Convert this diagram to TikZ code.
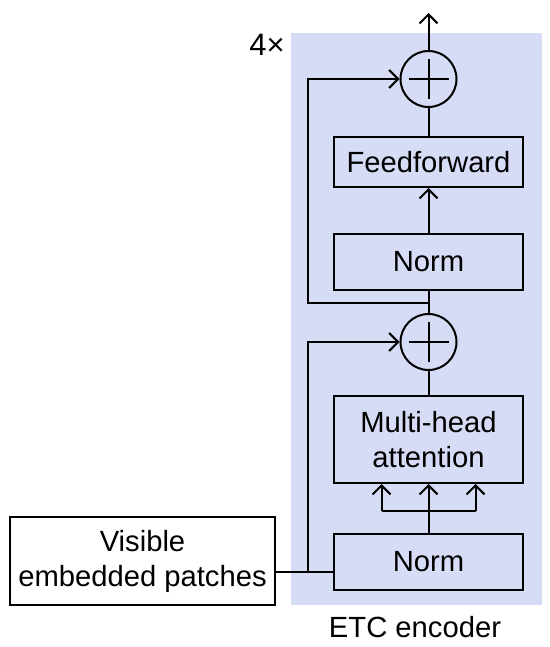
\documentclass[tikz,border=0pt]{standalone}
\usepackage{fontspec}
\setmainfont{Liberation Sans}
\usepackage{tikz}
\usetikzlibrary{calc}
\usetikzlibrary{arrows.meta}
\definecolor{encblue}{RGB}{214,220,245}
\tikzstyle{block}=[draw, line width=1pt, fill=white, minimum width=94.5pt, align=center, inner sep=0pt]
\tikzstyle{addop}=[draw, circle, line width=1pt, minimum size=28pt, inner sep=0pt,
  path picture={\draw[line width=1pt] ([xshift=-10pt]path picture bounding box.center) -- ([xshift=10pt]path picture bounding box.center);
    \draw[line width=1pt] ([yshift=-10pt]path picture bounding box.center) -- ([yshift=10pt]path picture bounding box.center);}]
\tikzstyle{arr}=[-{Straight Barb[length=4.5pt,width=9pt]}]

\begin{document}
\begin{tikzpicture}
        [x=0.5pt,y=-0.5pt,line width=1pt,font=\fontsize{14.6}{17.5}\selectfont]
            \useasboundingbox (0,0) rectangle (550,647);
            \fill [encblue] (291,33) rectangle (542,605);
            \node [font=\fontsize{15.5}{18}\selectfont] (fourx) at (267,45) {4×} ;
            \node (etc) at (415,627) {ETC encoder} ;
            \node [block, fill=encblue, minimum height=28pt] (norma) at (428.5,562) {Norm} ;
            \node [block, fill=encblue, minimum height=43.5pt] (mha) at (428.5,439.5) {Multi-head\\attention} ;
            \node [addop] (add1) at (428.5,342) {} ;
            \node [block, fill=encblue, minimum height=28pt] (normb) at (428.5,262) {Norm} ;
            \node [block, fill=encblue, minimum height=25pt] (ffn) at (428.5,162) {Feedforward} ;
            \node [addop] (add2) at (428.5,79) {} ;
            \node [block, minimum width=132.5pt, minimum height=44pt] (patches) at (142.5,561) {Visible\\embedded patches} ;
            \coordinate (split) at (308,572) ;
            \coordinate (splitb) at (308,303) ;
            \coordinate (fork) at (428.5,511) ;
            \coordinate (out) at (428.5,13) ;
            % input and first residual
            \draw (split -| patches.east) -- (split -| norma.west) ;
            \draw [arr] (split) |- (add1.west) ;
            \draw (norma.north) -- (fork) ;
            \foreach \dx in {-47,0,47}
                \draw [arr] ($(fork)+(\dx,0)$) -- ($(mha.south)+(\dx,0)$) ;
            \draw (fork) ++(-47,0) -- ++(94,0) ;
            \draw (mha.north) -- (add1.south) ;
            % second residual
            \draw (add1.north) -- (normb.south) ;
            \draw [arr] (splitb -| normb.south) -- (splitb) |- (add2.west) ;
            \draw [arr] (normb.north) -- (ffn.south) ;
            \draw (ffn.north) -- (add2.south) ;
            \draw [arr] (add2.north) -- (out) ;
        \end{tikzpicture}
\end{document}
